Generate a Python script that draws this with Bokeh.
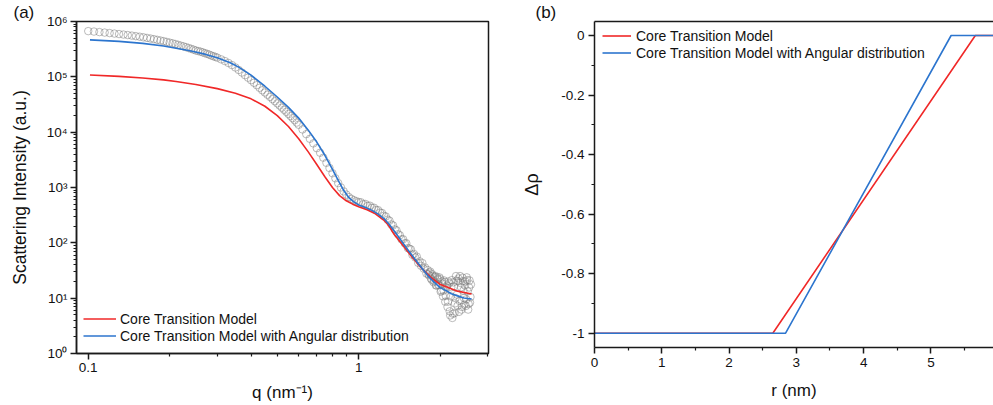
from bokeh.plotting import figure
from bokeh.models import (FixedTicker, CustomJSTickFormatter, Legend, LegendItem,
                          LinearAxis, Range1d, Title)
from bokeh.layouts import row
from bokeh.embed import file_html
from bokeh.resources import INLINE

FONT = "Liberation Sans"
RED = "#F02828"
BLUE = "#2C75CE"
GRAY = "#7a7a7a"
AXC = "#1a1a1a"
TXT = "#111111"

# ---------------- panel (a): SAXS data and model fits ----------------
q_data = [
    0.100, 0.105, 0.110, 0.115, 0.120, 0.125, 0.130, 0.135, 0.140, 0.145,
    0.150, 0.155, 0.160, 0.165, 0.170, 0.175, 0.180, 0.185, 0.190, 0.195,
    0.200, 0.205, 0.210, 0.215, 0.220, 0.225, 0.230, 0.235, 0.240, 0.245,
    0.250, 0.255, 0.260, 0.265, 0.270, 0.275, 0.280, 0.285, 0.290, 0.295,
    0.300,
    0.31, 0.32, 0.33, 0.34, 0.35, 0.36, 0.37, 0.38, 0.39, 0.40,
    0.41, 0.42, 0.43, 0.44, 0.45, 0.46, 0.47, 0.48, 0.49, 0.50,
    0.51, 0.52, 0.53, 0.54, 0.55, 0.56, 0.57, 0.58, 0.59, 0.60,
    0.62, 0.64, 0.66, 0.68, 0.70, 0.72, 0.74, 0.76, 0.78, 0.80,
    0.82, 0.84, 0.86, 0.88, 0.90, 0.92, 0.94, 0.96, 0.98, 1.00,
    1.02, 1.04, 1.06, 1.08, 1.10, 1.12, 1.14, 1.16, 1.18, 1.20,
    1.22, 1.24, 1.26, 1.28, 1.30, 1.32, 1.34, 1.36, 1.38, 1.40,
    1.42, 1.44, 1.46, 1.48, 1.50, 1.52, 1.54, 1.56, 1.58, 1.60,
    1.62, 1.64, 1.66, 1.68, 1.70, 1.72, 1.74, 1.76, 1.78, 1.80,
    1.82, 1.84, 1.86, 1.88, 1.90, 1.92, 1.94, 1.96, 1.98, 2.00,
    2.02, 2.04, 2.06, 2.08, 2.10, 2.12, 2.14, 2.16, 2.18, 2.20,
    2.22, 2.24, 2.26, 2.28, 2.30, 2.32, 2.34, 2.36, 2.38, 2.40,
    2.42, 2.44, 2.46, 2.48, 2.50, 2.52, 2.54, 2.56, 2.58, 2.60,
    1.81, 1.83, 1.85, 1.87, 1.89, 1.91, 1.93, 1.95, 1.97, 1.99,
    2.01, 2.03, 2.05, 2.07, 2.09, 2.11, 2.13, 2.15, 2.17, 2.19,
    2.21, 2.23, 2.25, 2.27, 2.29, 2.31, 2.33, 2.35, 2.37, 2.39,
    2.41, 2.43, 2.45, 2.47, 2.49, 2.51, 2.53, 2.55, 2.57, 2.59,
]
I_data = [
    6.70e5, 6.58e5, 6.44e5, 6.31e5, 6.18e5, 6.05e5, 5.93e5, 5.81e5, 5.69e5, 5.56e5,
    5.43e5, 5.31e5, 5.18e5, 5.05e5, 4.92e5, 4.79e5, 4.66e5, 4.53e5, 4.41e5, 4.28e5,
    4.15e5, 4.03e5, 3.91e5, 3.79e5, 3.66e5, 3.55e5, 3.44e5, 3.32e5, 3.21e5, 3.10e5,
    2.99e5, 2.92e5, 2.85e5, 2.77e5, 2.68e5, 2.60e5, 2.52e5, 2.43e5, 2.36e5, 2.29e5,
    2.22e5,
    2.07e5, 1.93e5, 1.78e5, 1.63e5, 1.475e5, 1.33e5, 1.195e5, 1.07e5, 9.64e4, 8.69e4,
    7.81e4, 7.05e4, 6.34e4, 5.71e4, 5.21e4, 4.75e4, 4.34e4, 3.96e4, 3.62e4, 3.31e4,
    3.03e4, 2.77e4, 2.54e4, 2.33e4, 2.13e4, 1.95e4, 1.79e4, 1.64e4, 1.49e4, 1.36e4,
    1.12e4, 9.20e3, 7.59e3, 6.27e3, 5.14e3, 4.25e3, 3.46e3, 2.79e3, 2.25e3, 1.81e3,
    1.47e3, 1.20e3, 1.00e3, 851, 745, 670, 621, 589, 565, 545,
    540, 500, 503, 466, 470, 430, 431, 392, 390, 352,
    346, 308, 299, 262, 251, 215, 206, 175, 168, 143,
    137, 116, 116, 98.2, 98.4, 80.2, 78.7, 75.9, 60.8, 63.0,
    54.2, 56.4, 43.5, 46.3, 38.5, 43.1, 34.2, 35.8, 27.9, 32.2,
    25.8, 30.1, 21.6, 25.2, 20.4, 25.1, 17.0, 21.9, 17.5, 22.1,
    13.7, 18.3, 13.7, 19.6, 11.0, 16.9, 8.65, 18.5, 4.88, 15.8,
    4.39, 19.3, 5.35, 10.0, 20.7, 7.26, 22.7, 8.93, 18.9, 6.21,
    23.4, 13.7, 7.64, 20.0, 9.51, 21.2, 6.22, 15.6, 8.32, 17.7,
    27.2, 28.8, 22.7, 27.0, 19.5, 24.0, 17.0, 24.0, 17.1, 23.7,
    13.1, 20.0, 10.8, 20.9, 8.63, 15.6, 6.95, 20.0, 5.79, 10.8,
    21.2, 5.24, 16.3, 8.04, 25.1, 11.6, 20.3, 5.66, 25.1, 15.7,
    6.93, 20.3, 10.1, 17.0, 7.23, 23.8, 13.3, 7.82, 20.9, 10.5,
]

q_red = [0.1015, 0.13, 0.159, 0.19, 0.2113, 0.25, 0.30, 0.35, 0.40, 0.45,
         0.50, 0.55, 0.60, 0.65, 0.70, 0.75, 0.80, 0.85, 0.90, 0.95,
         1.00, 1.074, 1.153, 1.234, 1.27, 1.30, 1.345, 1.427, 1.554, 1.692,
         1.844, 2.007, 2.32, 2.615]
I_red = [1.079e5, 1.019e5, 9.51e4, 8.81e4, 8.26e4, 7.28e4, 6.12e4, 5.05e4, 4.00e4, 2.94e4,
         1.99e4, 1.265e4, 7.62e3, 4.45e3, 2.61e3, 1.567e3, 998, 714, 575, 500,
         451, 395, 335, 261, 226, 195, 148, 102, 60.3, 36.6,
         24.0, 17.6, 13.4, 11.9]

q_blue = [0.1015, 0.13, 0.159, 0.19, 0.2113, 0.24, 0.27, 0.30, 0.335, 0.36,
          0.40, 0.45, 0.50, 0.55, 0.60, 0.65, 0.70, 0.75, 0.80, 0.84,
          0.88, 0.92, 0.96, 1.00, 1.06, 1.12, 1.18, 1.24, 1.30, 1.36,
          1.42, 1.50, 1.60, 1.70, 1.80, 1.90, 2.00, 2.10, 2.20, 2.32,
          2.45, 2.615]
I_blue = [4.66e5, 4.37e5, 4.02e5, 3.61e5, 3.28e5, 2.92e5, 2.57e5, 2.21e5, 1.80e5, 1.496e5,
          1.072e5, 6.76e4, 4.32e4, 2.81e4, 1.795e4, 1.10e4, 6.62e3, 3.82e3, 2.13e3, 1.35e3,
          891, 655, 550, 485, 434, 386, 331, 275, 213, 158,
          119, 81.8, 53.6, 36.7, 25.6, 19.5, 15.5, 13.8, 12.0, 11.0,
          10.1, 9.66]

q_major_ticks = [0.1, 1]
q_minor_ticks = [0.2, 0.3, 0.4, 0.5, 0.6, 0.7, 0.8, 0.9, 2, 3]
I_major_ticks = [1, 10, 100, 1e3, 1e4, 1e5, 1e6]
I_minor_ticks = [m * d for d in [1, 10, 100, 1e3, 1e4, 1e5] for m in range(2, 10)]

# ---------------- panel (b): contrast profile ----------------
r_red = [0.0, 2.65, 5.66, 6.0]
rho_red = [-1.0, -1.0, 0.0, 0.0]
r_blue = [0.0, 2.84, 5.30, 6.0]
rho_blue = [-1.0, -1.0, 0.0, 0.0]
r_major_ticks = [0, 1, 2, 3, 4, 5]
r_minor_ticks = [0.5, 1.5, 2.5, 3.5, 4.5, 5.5]
rho_major_ticks = [-1.0, -0.8, -0.6, -0.4, -0.2, 0.0]
rho_minor_ticks = [-0.9, -0.7, -0.5, -0.3, -0.1]

label_red = "Core Transition Model"
label_blue = "Core Transition Model with Angular distribution"


def style_axis(ax, label_standoff, axis_label_standoff, label_size="17px"):
    ax.axis_line_color = AXC
    ax.axis_line_width = 1.5
    ax.major_tick_line_color = AXC
    ax.minor_tick_line_color = AXC
    ax.major_tick_line_width = 1.5
    ax.minor_tick_line_width = 1.2
    ax.major_tick_out = 6
    ax.major_tick_in = 0
    ax.minor_tick_out = 3
    ax.minor_tick_in = 0
    ax.major_label_text_font = FONT
    ax.major_label_text_font_size = "13.5px"
    ax.major_label_text_color = TXT
    ax.major_label_standoff = label_standoff
    ax.axis_label_text_font = FONT
    ax.axis_label_text_font_size = label_size
    ax.axis_label_text_font_style = "normal"
    ax.axis_label_text_color = TXT
    ax.axis_label_standoff = axis_label_standoff


def panel_title(text, offset):
    return Title(text=text, align="left", offset=offset, standoff=0,
                 text_font=FONT, text_font_size="17px", text_font_style="normal",
                 text_color=TXT)


p1 = figure(x_axis_type="log", y_axis_type="log",
            x_range=Range1d(0.0905, 3.02), y_range=Range1d(1, 1e6),
            frame_width=412, frame_height=332,
            min_border_left=76, min_border_right=12, min_border_top=21, min_border_bottom=52,
            output_backend="svg", toolbar_location=None,
            title=panel_title("(a)", -63))
p1.xgrid.grid_line_color = None
p1.ygrid.grid_line_color = None
p1.outline_line_color = AXC
p1.outline_line_width = 1.5
p1.outline_line_alpha = 1.0

p1.xaxis.ticker = FixedTicker(ticks=q_major_ticks, minor_ticks=q_minor_ticks)
p1.yaxis.ticker = FixedTicker(ticks=I_major_ticks, minor_ticks=I_minor_ticks)
p1.xaxis.formatter = CustomJSTickFormatter(code="return String(Number(tick.toPrecision(6)));")
p1.yaxis.formatter = CustomJSTickFormatter(code=r"""
const sup = {"0":"\u2070","1":"\u00b9","2":"\u00b2","3":"\u00b3","4":"\u2074",
             "5":"\u2075","6":"\u2076","7":"\u2077","8":"\u2078","9":"\u2079","-":"\u207b"};
const e = Math.round(Math.log10(tick));
return "10" + String(e).split("").map(c => sup[c]).join("");
""")
p1.xaxis.axis_label = "q (nm\u207b\u00b9)"
p1.yaxis.axis_label = "Scattering Intensity (a.u.)"
style_axis(p1.xaxis[0], 3, 8, "17px")
style_axis(p1.yaxis[0], 3, 14, "17.5px")

p1.scatter(q_data, I_data, marker="circle", size=7.5, fill_color=None,
           line_color=GRAY, line_alpha=0.5, line_width=1)
lr = p1.line(q_red, I_red, line_color=RED, line_width=1.6)
lb = p1.line(q_blue, I_blue, line_color=BLUE, line_width=1.6)

leg1 = Legend(items=[LegendItem(label=label_red, renderers=[lr]),
                     LegendItem(label=label_blue, renderers=[lb])],
              location=(7, 9), border_line_color=None, background_fill_alpha=0,
              padding=0, margin=0, spacing=0, glyph_width=33, glyph_height=17,
              label_height=17, label_standoff=4, label_text_font=FONT,
              label_text_font_size="14px", label_text_color=TXT)
p1.add_layout(leg1)

p2 = figure(x_range=Range1d(0, 5.93), y_range=Range1d(-1.048, 0.047),
            frame_width=399, frame_height=326,
            min_border_left=94, min_border_right=0, min_border_top=21, min_border_bottom=58,
            output_backend="svg", toolbar_location=None,
            title=panel_title("(b)", -59))
p2.xgrid.grid_line_color = None
p2.ygrid.grid_line_color = None
p2.outline_line_color = None
p2.xaxis.ticker = FixedTicker(ticks=r_major_ticks, minor_ticks=r_minor_ticks)
p2.yaxis.ticker = FixedTicker(ticks=rho_major_ticks, minor_ticks=rho_minor_ticks)
p2.xaxis.formatter = CustomJSTickFormatter(code="return String(Number(tick.toFixed(2)));")
p2.yaxis.formatter = CustomJSTickFormatter(code="return String(Number(tick.toFixed(2)));")
p2.xaxis.axis_label = "r (nm)"
p2.yaxis.axis_label = "\u0394\u03c1"
style_axis(p2.xaxis[0], 4, 11, "17px")
style_axis(p2.yaxis[0], 4, 16, "18px")

top_axis = LinearAxis(ticker=FixedTicker(ticks=[]), axis_line_color=AXC, axis_line_width=1.5,
                      major_tick_line_color=None, minor_tick_line_color=None)
p2.add_layout(top_axis, "above")

l2r = p2.line(r_red, rho_red, line_color=RED, line_width=1.6)
l2b = p2.line(r_blue, rho_blue, line_color=BLUE, line_width=1.6)
leg2 = Legend(items=[LegendItem(label=label_red, renderers=[l2r]),
                     LegendItem(label=label_blue, renderers=[l2b])],
              location=(8, 286), border_line_color=None, background_fill_alpha=0,
              padding=0, margin=0, spacing=0, glyph_width=29, glyph_height=17,
              label_height=17, label_standoff=5, label_text_font=FONT,
              label_text_font_size="14px", label_text_color=TXT)
p2.add_layout(leg2)

layout = row(p1, p2, spacing=0)
open("out.html", "w").write(file_html(layout, INLINE))
